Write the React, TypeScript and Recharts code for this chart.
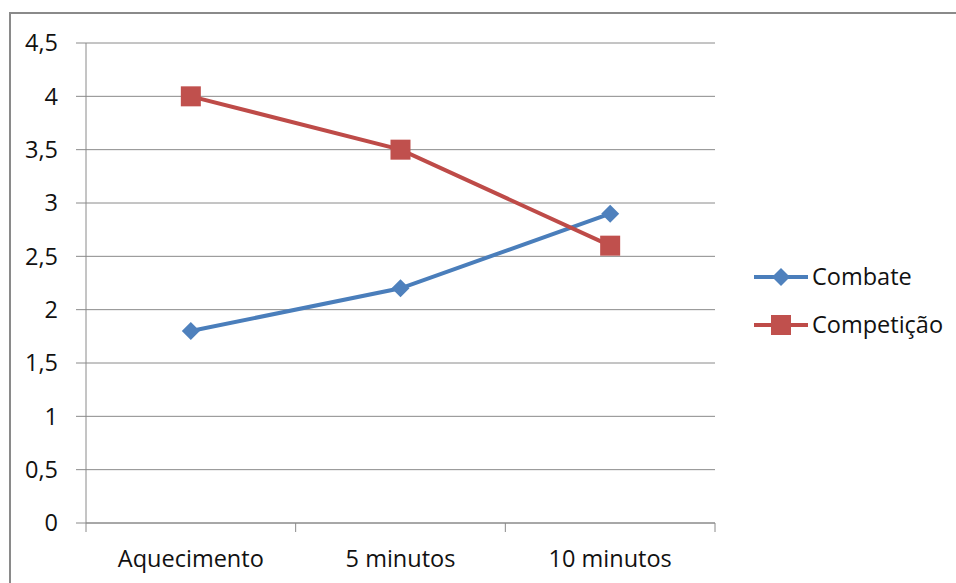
import React from 'react'
import { LineChart, Line, XAxis, YAxis, CartesianGrid } from 'recharts'

const categories = ['Aquecimento', '5 minutos', '10 minutos']
const combate = [1.8, 2.2, 2.9]
const competicao = [4, 3.5, 2.6]
const yTicks = [0, 0.5, 1, 1.5, 2, 2.5, 3, 3.5, 4, 4.5]

const BLUE = '#4a7ebb'
const RED = '#be4b48'
const GRID = '#8a8a8a'
const FONT = '"Open Sans", sans-serif'
const FS = 23.5

// categories sit at i + 0.5 on a numeric axis so tick marks fall between them
const rows = categories.map((name, i) => ({
  pos: i + 0.5,
  name,
  combate: combate[i],
  competicao: competicao[i],
}))
const xTicks = [0, 0.5, 1, 1.5, 2, 2.5, 3]

const fmt = (v: number) => String(v).replace('.', ',')

function DiamondDot(props: any) {
  const { cx, cy } = props
  if (cx == null || cy == null) return null
  const r = 9
  return (
    <polygon
      points={`${cx},${cy - r} ${cx + r},${cy} ${cx},${cy + r} ${cx - r},${cy}`}
      fill="#4f81bd"
    />
  )
}

function SquareDot(props: any) {
  const { cx, cy } = props
  if (cx == null || cy == null) return null
  return <rect x={cx - 10} y={cy - 10} width={20} height={20} fill="#c0504d" />
}

function XTick(props: any) {
  const { x, y, payload } = props
  const v = payload.value as number
  if (Number.isInteger(v)) {
    return <line x1={x} x2={x} y1={y} y2={y + 9} stroke={GRID} strokeWidth={1} />
  }
  const label = categories[Math.floor(v)]
  return (
    <text x={x} y={y + 44} textAnchor="middle" fill="#111" fontSize={FS} fontFamily={FONT}>
      {label}
    </text>
  )
}

const legendItems = [
  { name: 'Combate', color: BLUE, shape: 'diamond' },
  { name: 'Competição', color: RED, shape: 'square' },
]

function LegendBox() {
  return (
    <div style={{ fontFamily: FONT, fontSize: FS, color: '#111', lineHeight: 1 }}>
      {legendItems.map((it) => (
        <div key={it.name} style={{ display: 'flex', alignItems: 'center', height: 48 }}>
          <svg width={56} height={24} style={{ marginRight: 3 }}>
            <line x1={1} x2={55} y1={12} y2={12} stroke={it.color} strokeWidth={4} />
            {it.shape === 'diamond' ? (
              <polygon points="28,3 37,12 28,21 19,12" fill="#4f81bd" />
            ) : (
              <rect x={18} y={2} width={20} height={20} fill="#c0504d" />
            )}
          </svg>
          <span>{it.name}</span>
        </div>
      ))}
    </div>
  )
}

export default function App() {
  return (
    <div style={{ position: 'fixed', left: 0, top: 0, width: 956, height: 583, background: '#fff', overflow: 'hidden' }}>
      <div
        style={{
          position: 'absolute',
          left: 9,
          top: 12,
          width: 960,
          height: 600,
          border: '2px solid #8a8a8a',
        }}
      />
      <div style={{ position: 'absolute', left: 0, top: 0 }}>
        <LineChart width={956} height={583} data={rows} margin={{ top: 43, right: 241, bottom: 0, left: 0 }}>
          <CartesianGrid vertical={false} stroke={GRID} strokeWidth={1} />
          <XAxis
            dataKey="pos"
            type="number"
            domain={[0, 3]}
            ticks={xTicks}
            interval={0}
            height={60}
            axisLine={{ stroke: GRID }}
            tickLine={false}
            tickSize={0}
            tickMargin={0}
            tick={<XTick />}
          />
          <YAxis
            domain={[0, 4.5]}
            ticks={yTicks}
            interval={0}
            width={86}
            tickSize={10}
            tickMargin={18}
            tickFormatter={fmt}
            axisLine={{ stroke: GRID }}
            tickLine={{ stroke: GRID }}
            tick={{ fill: '#111', fontSize: FS, fontFamily: FONT }}
          />
          <Line
            dataKey="combate"
            name="Combate"
            stroke={BLUE}
            strokeWidth={4}
            dot={<DiamondDot />}
            activeDot={false}
            isAnimationActive={false}
          />
          <Line
            dataKey="competicao"
            name="Competição"
            stroke={RED}
            strokeWidth={4}
            dot={<SquareDot />}
            activeDot={false}
            isAnimationActive={false}
          />
        </LineChart>
      </div>
      <div style={{ position: 'absolute', left: 753, top: 253 }}>
        <LegendBox />
      </div>
    </div>
  )
}
